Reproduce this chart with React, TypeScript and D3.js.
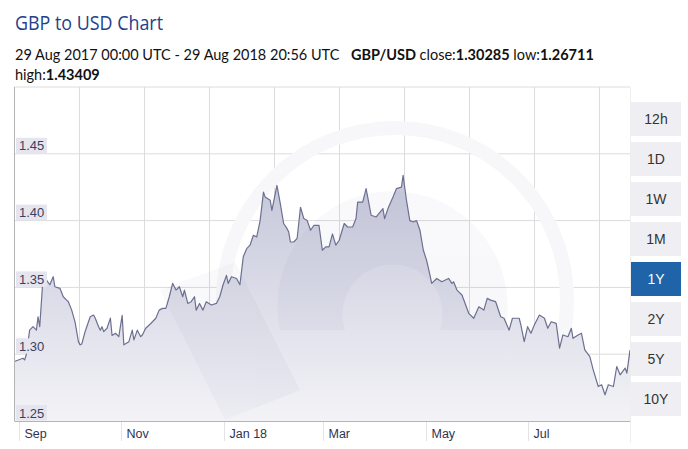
import React from "react";
import * as d3 from "d3";

const W = 688;
const H = 449;

// GBP/USD daily readings (date, rate)
const dates: string[] = [
  "2017-08-29","2017-09-03","2017-09-04","2017-09-05","2017-09-07","2017-09-09","2017-09-11","2017-09-12","2017-09-13","2017-09-15",
  "2017-09-17","2017-09-19","2017-09-21","2017-09-22","2017-09-25","2017-09-27","2017-09-29","2017-09-30","2017-10-02","2017-10-04",
  "2017-10-06","2017-10-07","2017-10-08","2017-10-10","2017-10-13","2017-10-15","2017-10-16","2017-10-18","2017-10-19","2017-10-20",
  "2017-10-21","2017-10-23","2017-10-25","2017-10-26","2017-10-28","2017-10-30","2017-11-01","2017-11-02","2017-11-05","2017-11-07",
  "2017-11-08","2017-11-10","2017-11-12","2017-11-13","2017-11-15","2017-11-18","2017-11-21","2017-11-23","2017-11-25","2017-11-27",
  "2017-11-29","2017-12-01","2017-12-03","2017-12-05","2017-12-07","2017-12-08","2017-12-10","2017-12-12","2017-12-14","2017-12-15",
  "2017-12-17","2017-12-19","2017-12-21","2017-12-24","2017-12-27","2017-12-29","2017-12-31","2018-01-02","2018-01-03","2018-01-05",
  "2018-01-08","2018-01-10","2018-01-12","2018-01-14","2018-01-16","2018-01-18","2018-01-20","2018-01-22","2018-01-24","2018-01-25",
  "2018-01-28","2018-01-29","2018-02-01","2018-02-03","2018-02-05","2018-02-07","2018-02-08","2018-02-09","2018-02-11","2018-02-13",
  "2018-02-15","2018-02-17","2018-02-19","2018-02-21","2018-02-23","2018-02-26","2018-02-28","2018-03-02","2018-03-04","2018-03-06",
  "2018-03-08","2018-03-10","2018-03-13","2018-03-15","2018-03-18","2018-03-20","2018-03-21","2018-03-24","2018-03-26","2018-03-29",
  "2018-04-01","2018-04-05","2018-04-06","2018-04-08","2018-04-11","2018-04-13","2018-04-16","2018-04-17","2018-04-19","2018-04-21",
  "2018-04-23","2018-04-25","2018-04-27","2018-04-29","2018-05-01","2018-05-03","2018-05-04","2018-05-07","2018-05-10","2018-05-14",
  "2018-05-16","2018-05-17","2018-05-19","2018-05-22","2018-05-26","2018-05-29","2018-06-01","2018-06-04","2018-06-06","2018-06-08",
  "2018-06-11","2018-06-14","2018-06-16","2018-06-19","2018-06-21","2018-06-25","2018-06-26","2018-06-28","2018-06-30","2018-07-02",
  "2018-07-04","2018-07-07","2018-07-10","2018-07-12","2018-07-14","2018-07-17","2018-07-19","2018-07-21","2018-07-24","2018-07-26",
  "2018-07-27","2018-07-30","2018-08-01","2018-08-03","2018-08-06","2018-08-08","2018-08-11","2018-08-13","2018-08-15","2018-08-17",
  "2018-08-20","2018-08-22","2018-08-24","2018-08-27","2018-08-28","2018-08-29T20:56"
];
const rates: number[] = [
  1.2945,1.2970,1.2957,1.2995,1.3180,1.3206,1.3180,1.3280,1.3206,1.3580,
  1.3555,1.3520,1.3580,1.3505,1.3493,1.3430,1.3405,1.3393,1.3330,1.3240,
  1.3094,1.3070,1.3077,1.3170,1.3280,1.3293,1.3269,1.3206,1.3180,1.3206,
  1.3169,1.3194,1.3270,1.3140,1.3157,1.3131,1.3290,1.3070,1.3094,1.3180,
  1.3107,1.3180,1.3131,1.3144,1.3194,1.3230,1.3269,1.3330,1.3343,1.3343,
  1.3430,1.3530,1.3480,1.3505,1.3430,1.3480,1.3380,1.3393,1.3430,1.3330,
  1.3380,1.3330,1.3393,1.3368,1.3380,1.3430,1.3520,1.3590,1.3530,1.3580,
  1.3567,1.3520,1.3730,1.3790,1.3816,1.3890,1.3878,1.4000,1.4213,1.4176,
  1.4152,1.4077,1.4263,1.4127,1.3978,1.3940,1.3915,1.3840,1.3840,1.3866,
  1.4100,1.4015,1.4000,1.3928,1.3965,1.3965,1.3778,1.3803,1.3803,1.3900,
  1.3816,1.3853,1.3978,1.3952,1.3952,1.4015,1.4139,1.4139,1.4239,1.4040,
  1.4027,1.4090,1.4015,1.4090,1.4176,1.4239,1.4251,1.4338,1.4152,1.4000,
  1.3990,1.4000,1.3928,1.3780,1.3700,1.3590,1.3530,1.3567,1.3542,1.3567,
  1.3530,1.3542,1.3480,1.3443,1.3306,1.3269,1.3355,1.3330,1.3418,1.3405,
  1.3393,1.3280,1.3269,1.3180,1.3269,1.3269,1.3219,1.3094,1.3206,1.3157,
  1.3219,1.3293,1.3269,1.3194,1.3243,1.3231,1.3045,1.3144,1.3131,1.3194,
  1.3119,1.3144,1.3157,1.3032,1.2982,1.2883,1.2758,1.2771,1.2696,1.2771,
  1.2758,1.2908,1.2846,1.2896,1.2858,1.3030
];

const yTicks: number[] = [1.25, 1.30, 1.35, 1.40, 1.45];
const monthTicks: string[] = ["2017-09-01", "2017-11-01", "2018-01-01", "2018-03-01", "2018-05-01", "2018-07-01"];
const monthLabels: string[] = ["Sep", "Nov", "Jan 18", "Mar", "May", "Jul"];
const buttons: string[] = ["12h", "1D", "1W", "1M", "1Y", "2Y", "5Y", "10Y"];
const activeButton = "1Y";

const FONT = "Lato, 'Open Sans', sans-serif";

export default function App() {
  const left = 14.5, right = 630, top = 87, bottom = 421;
  const parse = (s: string) => new Date(s.length > 10 ? s + ":00Z" : s + "T00:00:00Z");
  const data = dates.map((d, i) => ({ date: parse(d), v: rates[i] }));

  const x = d3.scaleUtc()
    .domain([parse("2017-08-29"), parse("2018-08-29T20:56")])
    .range([left, right]);
  const y = d3.scaleLinear().domain([1.25, 1.5]).range([bottom, top]);

  const line = d3.line<{ date: Date; v: number }>().x(d => x(d.date)).y(d => y(d.v));
  const area = d3.area<{ date: Date; v: number }>().x(d => x(d.date)).y0(bottom).y1(d => y(d.v));

  const vGrid = d3.range(left, right, 65);
  const hGrid = [...yTicks, 1.5];

  return (
    <svg width={W} height={H} style={{ position: "absolute", left: 0, top: 0, background: "#fff" }} fontFamily={FONT}>
      <defs>
        <linearGradient id="areaGrad" gradientUnits="userSpaceOnUse" x1="0" y1={top + 80} x2="0" y2={bottom}>
          <stop offset="0" stopColor="#c3c5d8" />
          <stop offset="1" stopColor="#f3f3f7" />
        </linearGradient>
        <clipPath id="plotClip">
          <rect x={left} y={top} width={right - left} height={bottom - top} />
        </clipPath>
      </defs>

      {/* title */}
      <text x={15} y={30} fontSize={20} fill="#23418a" fontFamily="'Open Sans', sans-serif" fontWeight={400} textLength={148} lengthAdjust="spacingAndGlyphs">GBP to USD Chart</text>
      <text x={15} y={60} fontSize={14.5} fill="#111">
        <tspan>29 Aug 2017 00:00 UTC - 29 Aug 2018 20:56 UTC</tspan>
        <tspan x={351} fontWeight={700}>GBP/USD</tspan>
        <tspan> close:</tspan>
        <tspan fontWeight={700}>1.30285</tspan>
        <tspan> low:</tspan>
        <tspan fontWeight={700}>1.26711</tspan>
      </text>
      <text x={15} y={80} fontSize={14.5} fill="#111">
        <tspan>high:</tspan>
        <tspan fontWeight={700}>1.43409</tspan>
      </text>

      {/* grid */}
      {hGrid.map(t => (
        <line key={"h" + t} x1={left} x2={right} y1={y(t)} y2={y(t)} stroke="#dcdcdc" strokeWidth={1} />
      ))}
      {vGrid.map(g => (
        <line key={"v" + g} x1={g} x2={g} y1={top} y2={bottom} stroke="#dcdcdc" strokeWidth={1} />
      ))}

      {/* watermark */}
      <g clipPath="url(#plotClip)">
        <circle cx={395} cy={300} r={172} fill="none" stroke="#f7f7fa" strokeWidth={14} />
      </g>

      {/* area and line */}
      <path d={area(data) || ""} fill="url(#areaGrad)" />
      <g clipPath="url(#plotClip)" opacity={0.03} fill="#3a3f7a">
        <path d="M 160 290 L 235 262 L 300 390 L 225 420 Z" />
        <path d="M 280 330 A 115 115 0 1 1 505 330 L 440 330 A 50 50 0 1 0 345 330 Z" />
      </g>
      <path d={line(data) || ""} fill="none" stroke="#6c7090" strokeWidth={1.2} strokeLinejoin="round" />

      {/* axes */}
      <line x1={left} x2={left} y1={top} y2={bottom} stroke="#b4b4b4" />
      <line x1={left} x2={right} y1={bottom + 0.5} y2={bottom + 0.5} stroke="#b4b4b4" />
      <line x1={right + 0.5} x2={right + 0.5} y1={top} y2={443} stroke="#eeeeee" />

      {/* y labels */}
      {yTicks.map(t => (
        <g key={"yl" + t}>
          <rect x={16} y={y(t) - 16} width={31} height={15.5} fill="#e5e5ef" />
          <text x={19} y={y(t) - 3.5} fontSize={13} fill="#3c3f5c" fontFamily="Arial, 'Liberation Sans', sans-serif">{d3.format(".2f")(t)}</text>
        </g>
      ))}

      {/* x labels */}
      {monthTicks.map((m, i) => {
        const px = Math.round(x(parse(m))) - 0.5;
        return (
          <g key={"xl" + m}>
            <line x1={px} x2={px} y1={bottom + 1} y2={441} stroke="#e4e4e4" />
            <text x={px + 5} y={437.5} fontSize={12.5} fill="#2f3350" fontFamily="Arial, 'Liberation Sans', sans-serif">{monthLabels[i]}</text>
          </g>
        );
      })}

      {/* range buttons */}
      {buttons.map((b, i) => {
        const by = 102 + i * 40;
        const active = b === activeButton;
        return (
          <g key={b}>
            <rect x={631} y={by} width={50} height={34} fill={active ? "#1f63a8" : "#efeff3"} />
            <text x={656} y={by + 22} textAnchor="middle" fontSize={14} fill={active ? "#ffffff" : "#333333"} fontFamily="Arial, 'Liberation Sans', sans-serif">{b}</text>
          </g>
        );
      })}
    </svg>
  );
}
